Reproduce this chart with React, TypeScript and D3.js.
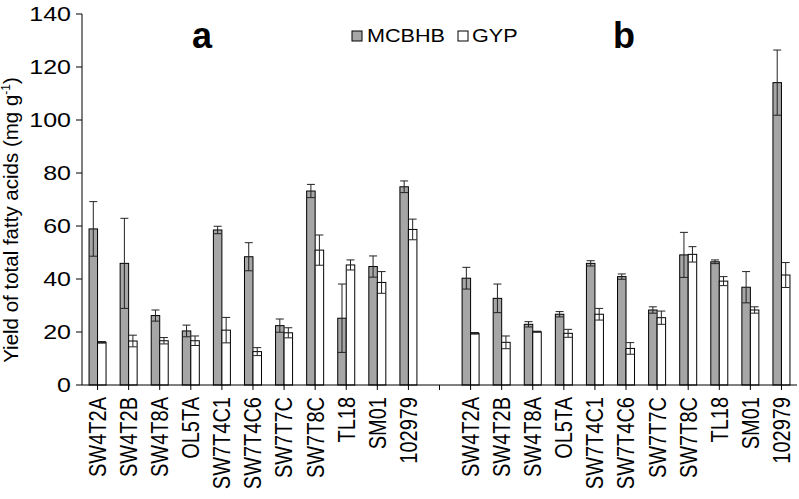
import React from "react";
import * as d3 from "d3";

const categories = ["SW4T2A","SW4T2B","SW4T8A","OL5TA","SW7T4C1","SW7T4C6","SW7T7C","SW7T8C","TL18","SM01","102979"];
const mcbhbA = [58.9,45.9,26.2,20.4,58.5,48.4,22.4,73.2,25.2,44.7,74.8];
const mcbhbASd = [10.3,17.0,2.1,2.2,1.4,5.3,2.5,2.5,12.9,4.0,2.2];
const gypA = [16.1,16.6,16.7,16.7,20.7,12.6,19.7,50.9,45.3,38.7,58.7];
const gypASd = [0.3,2.2,1.2,1.8,4.8,1.5,1.9,5.7,1.9,4.1,3.9];
const mcbhbB = [40.3,32.7,22.9,26.7,45.9,40.9,28.3,49.1,46.5,36.9,114.1];
const mcbhbBSd = [4.1,5.4,1.0,1.0,1.0,1.0,1.2,8.5,0.7,5.9,12.3];
const gypB = [19.5,16.1,20.1,19.5,26.7,13.8,25.4,49.3,39.2,28.3,41.5];
const gypBSd = [0.3,2.4,0.2,1.5,2.2,2.2,2.5,2.9,1.7,1.2,4.7];
const yTicks = [0,20,40,60,80,100,120,140];
const seriesNames = ["MCBHB","GYP"];
const panelLabels = ["a","b"];

const W = 799, H = 499;
const FONT = "'Liberation Sans', Arial, Helvetica, sans-serif";
const GRAY = "#a6a6a6";

type Row = { key: string; label: string; m?: number; ms?: number; g?: number; gs?: number };

export default function App() {
  const rows: Row[] = [];
  categories.forEach((c, i) => rows.push({ key: "a-" + c, label: c, m: mcbhbA[i], ms: mcbhbASd[i], g: gypA[i], gs: gypASd[i] }));
  rows.push({ key: "gap", label: "" });
  categories.forEach((c, i) => rows.push({ key: "b-" + c, label: c, m: mcbhbB[i], ms: mcbhbBSd[i], g: gypB[i], gs: gypBSd[i] }));

  const x = d3.scaleBand<string>().domain(rows.map(r => r.key)).range([82, 797]).paddingInner(0).paddingOuter(0);
  const y = d3.scaleLinear().domain([0, 140]).range([385, 14]);
  const bw = 8.5;
  const cap = 4;

  const errBar = (cx: number, v: number, sd: number, k: string) => {
    const y1 = y(v + sd), y0 = y(Math.max(0, v - sd));
    return (
      <g key={k} stroke="#222" strokeWidth={1}>
        <line x1={cx} x2={cx} y1={y1} y2={y0} />
        <line x1={cx - cap} x2={cx + cap} y1={y1} y2={y1} />
        <line x1={cx - cap} x2={cx + cap} y1={y0} y2={y0} />
      </g>
    );
  };

  return (
    <svg width={W} height={H} style={{ position: "absolute", left: 0, top: 0, background: "#fff" }} fontFamily={FONT}>
      <rect x={0} y={0} width={W} height={H} fill="#fff" />
      {/* bars */}
      {rows.map(r => {
        if (r.m === undefined) return null;
        const c = (x(r.key) as number) + x.bandwidth() / 2;
        return (
          <g key={r.key}>
            <rect x={c - bw} y={y(r.m)} width={bw} height={y(0) - y(r.m)} fill={GRAY} stroke="#000" strokeWidth={1} />
            <rect x={c} y={y(r.g!)} width={bw} height={y(0) - y(r.g!)} fill="#fff" stroke="#000" strokeWidth={1} />
            {errBar(c - bw / 2, r.m, r.ms!, "em")}
            {errBar(c + bw / 2, r.g!, r.gs!, "eg")}
          </g>
        );
      })}
      {/* y axis */}
      <line x1={82} x2={82} y1={y(140)} y2={y(0)} stroke="#000" strokeWidth={1} />
      {yTicks.map(t => (
        <g key={t}>
          <line x1={76} x2={82} y1={y(t)} y2={y(t)} stroke="#000" strokeWidth={1} />
          <text transform={`translate(71,${y(t)}) scale(1.25,1)`} textAnchor="end" dy="0.35em" fontSize={20} fill="#000">{t}</text>
        </g>
      ))}
      {/* x axis */}
      <line x1={82} x2={797} y1={y(0)} y2={y(0)} stroke="#000" strokeWidth={1} />
      {rows.map(r => {
        const c = (x(r.key) as number) + x.bandwidth() / 2;
        return (
          <g key={"t" + r.key}>
            <line x1={c} x2={c} y1={y(0)} y2={y(0) + 5} stroke="#000" strokeWidth={1} />
            {r.label && (
              <text transform={`translate(${c},397) scale(1.2,1) rotate(-90)`} textAnchor="end" dy="0.35em" fontSize={20} fill="#000">{r.label}</text>
            )}
          </g>
        );
      })}
      {/* y title */}
      <text transform={`translate(18,220) rotate(-90)`} textAnchor="middle" fontSize={20.5} fill="#000">
        Yield of total fatty acids  (mg g<tspan dy="-8" fontSize={12}>-1</tspan><tspan dy="8">)</tspan>
      </text>
      {/* panel labels */}
      <text x={202} y={48} textAnchor="middle" fontSize={36} fontWeight="bold" fill="#000">{panelLabels[0]}</text>
      <text x={624} y={48} textAnchor="middle" fontSize={36} fontWeight="bold" fill="#000">{panelLabels[1]}</text>
      {/* legend */}
      <rect x={352} y={31} width={10} height={10} fill={GRAY} stroke="#000" strokeWidth={1} />
      <text transform="translate(367,42) scale(1.2,1)" fontSize={18} fill="#000">{seriesNames[0]}</text>
      <rect x={458} y={31} width={10} height={10} fill="#fff" stroke="#000" strokeWidth={1} />
      <text transform="translate(472,42) scale(1.2,1)" fontSize={18} fill="#000">{seriesNames[1]}</text>
    </svg>
  );
}
